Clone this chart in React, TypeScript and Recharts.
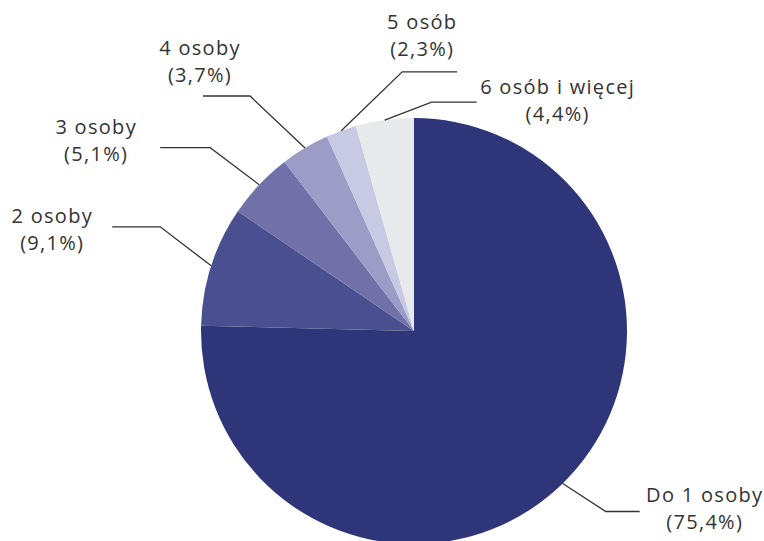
import React from 'react';
import { PieChart, Pie, Cell } from 'recharts';

const categories = ['Do 1 osoby', '2 osoby', '3 osoby', '4 osoby', '5 osób', '6 osób i więcej'];
const shares = [75.4, 9.1, 5.1, 3.7, 2.3, 4.4];
const colors = ['#2e3679', '#4a4f8f', '#7170a8', '#9d9cc6', '#c8c9e3', '#e8e9ea'];

// leader-line layout per slice: elbow offset from slice edge, horizontal run, text offset from line end
const labelLayout = [
  { ex: 43, ey: 28, h: 34, tx: 65, ty: -17 },
  { ex: -51, ey: -39, h: -48, tx: -60, ty: -11 },
  { ex: -49, ey: -37, h: -50, tx: -64, ty: -21 },
  { ex: -55, ey: -52, h: -47, tx: -3, ty: -49 },
  { ex: 61, ey: -59, h: 55, tx: -35, ty: -50 },
  { ex: 47, ey: -18, h: 45, tx: 81, ty: -16 },
];

const data = categories.map((name, i) => ({ name, value: shares[i] }));

const RADIAN = Math.PI / 180;

const textStyle = { fontFamily: "'Open Sans', sans-serif", fontSize: 20, letterSpacing: 1.3 };

const renderLabel = (props: any) => {
  const { cx, cy, midAngle, outerRadius, index, value, name } = props;
  const x0 = cx + outerRadius * Math.cos(-midAngle * RADIAN);
  const y0 = cy + outerRadius * Math.sin(-midAngle * RADIAN);
  const L = labelLayout[index];
  const x1 = x0 + L.ex;
  const y1 = y0 + L.ey;
  const x2 = x1 + L.h;
  const tx = x2 + L.tx;
  const ty = y1 + L.ty;
  const pct = '(' + String(value).replace('.', ',') + '%)';
  return (
    <g>
      <polyline points={`${x0},${y0} ${x1},${y1} ${x2},${y1}`} fill="none" stroke="#333333" strokeWidth={1.3} />
      <text x={tx} y={ty} textAnchor="middle" dominantBaseline="central" fill="#333333" style={textStyle}>
        {name}
      </text>
      <text x={tx} y={ty + 27} textAnchor="middle" dominantBaseline="central" fill="#333333" style={textStyle}>
        {pct}
      </text>
    </g>
  );
};

export default function App() {
  return (
    <div style={{ position: 'absolute', left: 0, top: 0, width: 764, height: 541, background: '#ffffff', overflow: 'hidden' }}>
      <PieChart width={764} height={541} margin={{ top: 0, right: 0, bottom: 0, left: 0 }}>
        <Pie
          data={data}
          dataKey="value"
          nameKey="name"
          cx={414}
          cy={331}
          outerRadius={213}
          startAngle={90}
          endAngle={-270}
          stroke="none"
          label={renderLabel}
          labelLine={false}
          isAnimationActive={false}
        >
          {data.map((d, i) => (
            <Cell key={d.name} fill={colors[i]} />
          ))}
        </Pie>
      </PieChart>
    </div>
  );
}
